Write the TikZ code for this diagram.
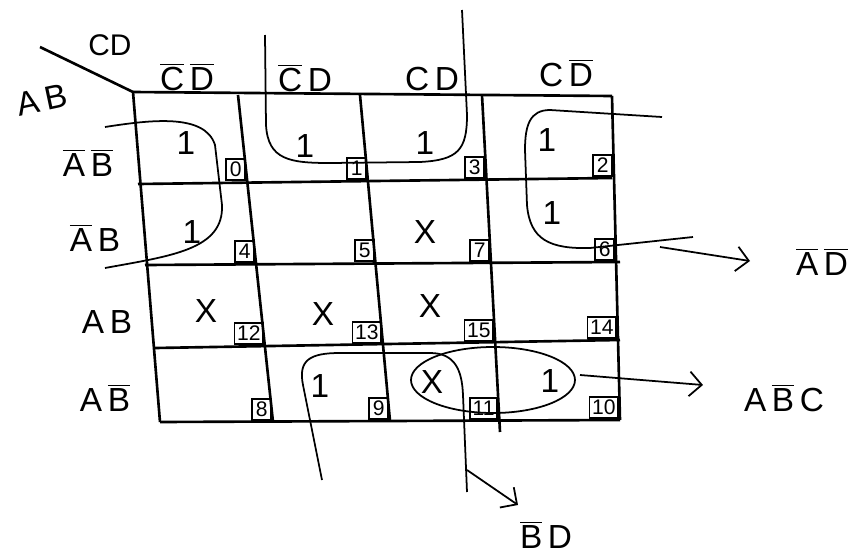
\documentclass[tikz,border=0pt]{standalone}
\usepackage{fontspec}
\setmainfont{Liberation Sans}
\usetikzlibrary{arrows.meta, positioning}
\newcommand{\ovl}[1]{$\overline{\mbox{#1}}$}

\begin{document}
\begin{tikzpicture}[
  x=0.02cm, y=-0.02cm,
  >={Straight Barb[length=7pt,width=14pt]},
  font=\fontsize{19}{22}\selectfont,
  gridline/.style={line width=1.5pt},
  group/.style={line width=1pt},
  val/.style={inner sep=1pt},
  idx/.style={draw, line width=1pt, inner sep=1.5pt, minimum height=0.42cm, minimum width=0.38cm, anchor=south east, font=\fontsize{12}{13}\selectfont},
  lbl/.style={inner sep=1pt}
]
\useasboundingbox (0,0) rectangle (853,555);

% HEADER LABELS
\draw[gridline] (40,47) -- (133,92);
\node[lbl, font=\fontsize{17}{20}\selectfont] (cdvar) at (110,45) {CD};
\node[lbl, rotate=12] (abvar) at (42,100) {A\,B};

\node[lbl] (col0) at (187,77) {\ovl{C}\,\ovl{D}};
\node[lbl] (col1) at (305,78) {\ovl{C}\,D};
\node[lbl] (col3) at (432,79) {C\,D};
\node[lbl] (col2) at (566,73) {C\,\ovl{D}};

\node[lbl] (row0) at (88,163) {\ovl{A}\,\ovl{B}};
\node[lbl] (row1) at (95,238) {\ovl{A}\,B};
\node[lbl] (row3) at (107,322) {A\,B};
\node[lbl] (row2) at (105,398) {A\,\ovl{B}};

% GRID
\draw[gridline] (133,92) -- (612,96);
\draw[gridline] (138,184) -- (612,178);
\draw[gridline] (145,265) -- (620,262);
\draw[gridline] (155,348) -- (620,340);
\draw[gridline] (160,422) -- (620,420);
\draw[gridline] (133,92) -- (160,422);
\draw[gridline] (238,95) -- (273,422);
\draw[gridline] (360,95) -- (390,421);
\draw[gridline] (482,95) -- (500,432);
\draw[gridline] (612,96) -- (620,420);

% CELL NUMBERS
\node[idx] (i0) at (246,181) {0};
\node[idx] (i1) at (367,180) {1};
\node[idx] (i3) at (485,179) {3};
\node[idx] (i2) at (613,177) {2};
\node[idx] (i4) at (255,263) {4};
\node[idx] (i5) at (375,262) {5};
\node[idx] (i7) at (490,262) {7};
\node[idx] (i6) at (615,261) {6};
\node[idx] (i12) at (264,345) {12};
\node[idx] (i13) at (382,344) {13};
\node[idx] (i15) at (494,342) {15};
\node[idx] (i14) at (617,339) {14};
\node[idx] (i8) at (272,421) {8};
\node[idx] (i9) at (389,420) {9};
\node[idx] (i11) at (498,420) {11};
\node[idx] (i10) at (619,419) {10};

% CELL VALUES
\node[val] (m0) at (186,143) {1};
\node[val] (m1) at (305,146) {1};
\node[val] (m3) at (425,143) {1};
\node[val] (m2) at (547,140) {1};
\node[val] (m4) at (192,232) {1};
\node[val] (m7) at (425,232) {X};
\node[val] (m6) at (552,213) {1};
\node[val] (m12) at (206,311) {X};
\node[val] (m13) at (323,314) {X};
\node[val] (m15) at (430,306) {X};
\node[val] (m9) at (320,386) {1};
\node[val] (m11) at (432,382) {X};
\node[val] (m10) at (550,381) {1};

% GROUPS
\draw[group] (105,127) .. controls (150,120) and (205,113) .. (215,145)
  -- (222,205) .. controls (224,250) and (170,256) .. (105,268);
\draw[group] (265,35) -- (266,125) .. controls (268,160) and (290,163) .. (330,163)
  -- (420,162) .. controls (458,160) and (467,150) .. (467,115) -- (462,10);
\draw[group] (662,117) -- (550,110) .. controls (530,110) and (525,125) .. (525,150)
  -- (527,205) .. controls (530,240) and (550,249) .. (590,248) -- (693,237);
\draw[group] (322,480) -- (303,385) .. controls (298,360) and (310,353) .. (340,353)
  -- (430,353) .. controls (455,353) and (462,370) .. (463,395) -- (467,492);
\draw[group] (493,380) ellipse [x radius=82, y radius=33];

% RESULTS
\node[lbl] (outad) at (822,262) {\ovl{A}\,\ovl{D}};
\node[lbl] (outabc) at (784,398) {A\,\ovl{B}\,C};
\node[lbl] (outbd) at (546,535) {\ovl{B}\,D};

\coordinate (adtail) at (660,247);
\coordinate (adtip) at (750,261);
\coordinate (abctail) at (580,375);
\coordinate (abctip) at (703,385);
\coordinate (bdtail) at (467,470);
\coordinate (bdtip) at (518,505);
\draw[group, ->] (adtail) -- (adtip);
\draw[group, ->] (abctail) -- (abctip);
\draw[group, ->] (bdtail) -- (bdtip);

\end{tikzpicture}
\end{document}
